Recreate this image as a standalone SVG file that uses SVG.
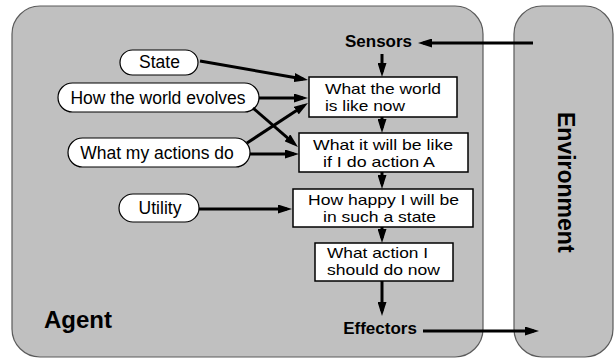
<svg xmlns="http://www.w3.org/2000/svg" width="616" height="358" viewBox="0 0 616 358">
  <style>
    .panel { fill: #c0c0c0; stroke: #5a5a5a; stroke-width: 1.2; }
    .box { fill: #ffffff; stroke: #000000; stroke-width: 1.5; }
    .oval { fill: #ffffff; stroke: #000000; stroke-width: 1.2; }
    .txt { font-family: "Liberation Sans", Arial, sans-serif; font-size: 17.5px; fill: #000000; }
    .btxt { font-family: "Liberation Sans", Arial, sans-serif; font-size: 15px; fill: #000000; }
    .bold { font-family: "Liberation Sans", Arial, sans-serif; font-weight: bold; fill: #000000; }
    .mid { text-anchor: middle; }
    .arrow { stroke: #000000; stroke-width: 3; fill: none; marker-end: url(#head); }
  </style>
  <defs>
    <marker id="head" markerUnits="userSpaceOnUse" markerWidth="14" markerHeight="9" refX="9" refY="4.5" orient="auto">
      <path d="M0,0 L14,4.5 L0,9 Z" fill="#000000"/>
    </marker>
  </defs>

  <!-- containers -->
  <g id="agent">
    <rect class="panel" x="12" y="6" width="471" height="351" rx="28" ry="28"/>
    <text class="bold" x="44" y="328" font-size="24">Agent</text>
  </g>
  <g id="environment">
    <rect class="panel" x="514" y="6" width="99" height="351" rx="28" ry="28"/>
    <text class="bold" font-size="23" transform="translate(558,112) rotate(90)">Environment</text>
  </g>

  <!-- sensor / effector labels -->
  <g id="sensors">
    <text class="bold mid" x="378.5" y="47" font-size="17">Sensors</text>
  </g>
  <g id="effectors">
    <text class="bold mid" x="380" y="334" font-size="17">Effectors</text>
  </g>

  <!-- knowledge ovals -->
  <g id="state">
    <rect class="oval" x="120" y="50" width="78" height="25" rx="12.5" ry="12.5"/>
    <text class="txt mid" x="159.5" y="68">State</text>
  </g>
  <g id="world-evolves">
    <rect class="oval" x="58" y="83" width="201" height="29" rx="14.5" ry="14.5"/>
    <text class="txt mid" x="158" y="103.5">How the world evolves</text>
  </g>
  <g id="actions-do">
    <rect class="oval" x="68" y="138" width="182" height="29" rx="14.5" ry="14.5"/>
    <text class="txt mid" x="157" y="158.5">What my actions do</text>
  </g>
  <g id="utility">
    <rect class="oval" x="119" y="194" width="80" height="28" rx="14" ry="14"/>
    <text class="txt mid" x="160" y="214">Utility</text>
  </g>

  <!-- reasoning boxes: two-line labels, widths fixed with textLength -->
  <g id="world-now">
    <rect class="box" x="309" y="77" width="148" height="40"/>
    <text class="btxt" x="325" y="94" textLength="116" lengthAdjust="spacingAndGlyphs">What the world</text>
    <text class="btxt" x="325" y="111" textLength="80" lengthAdjust="spacingAndGlyphs">is like now</text>
  </g>
  <g id="will-be-like">
    <rect class="box" x="299" y="133" width="169" height="39"/>
    <text class="btxt" x="313" y="150" textLength="140" lengthAdjust="spacingAndGlyphs">What it will be like</text>
    <text class="btxt" x="323" y="167" textLength="112" lengthAdjust="spacingAndGlyphs">if I do action A</text>
  </g>
  <g id="how-happy">
    <rect class="box" x="293" y="189" width="180" height="38"/>
    <text class="btxt" x="308" y="204.5" textLength="151" lengthAdjust="spacingAndGlyphs">How happy I will be</text>
    <text class="btxt" x="323" y="221.5" textLength="113" lengthAdjust="spacingAndGlyphs">in such a state</text>
  </g>
  <g id="what-action">
    <rect class="box" x="315" y="243" width="138" height="38"/>
    <text class="btxt" x="327" y="257.5" textLength="101" lengthAdjust="spacingAndGlyphs">What action I</text>
    <text class="btxt" x="327" y="274.5" textLength="113" lengthAdjust="spacingAndGlyphs">should do now</text>
  </g>

  <!-- connectors -->
  <g id="connectors">
    <line class="arrow" x1="533" y1="43" x2="423" y2="43"/>
    <line class="arrow" x1="382" y1="54" x2="382" y2="72"/>
    <line class="arrow" x1="382" y1="117" x2="382" y2="128"/>
    <line class="arrow" x1="382" y1="172" x2="382" y2="184"/>
    <line class="arrow" x1="382" y1="227" x2="382" y2="238"/>
    <line class="arrow" x1="382" y1="281" x2="382" y2="311"/>
    <line class="arrow" x1="423" y1="331" x2="534" y2="331"/>
    <line class="arrow" x1="200" y1="61" x2="303.1" y2="79.1"/>
    <line class="arrow" x1="259" y1="98" x2="303" y2="98"/>
    <line class="arrow" x1="253" y1="108" x2="294.2" y2="143.7"/>
    <line class="arrow" x1="247" y1="143" x2="303.8" y2="105.7"/>
    <line class="arrow" x1="250" y1="154" x2="294" y2="154"/>
    <line class="arrow" x1="199" y1="209" x2="287" y2="209"/>
  </g>
</svg>
